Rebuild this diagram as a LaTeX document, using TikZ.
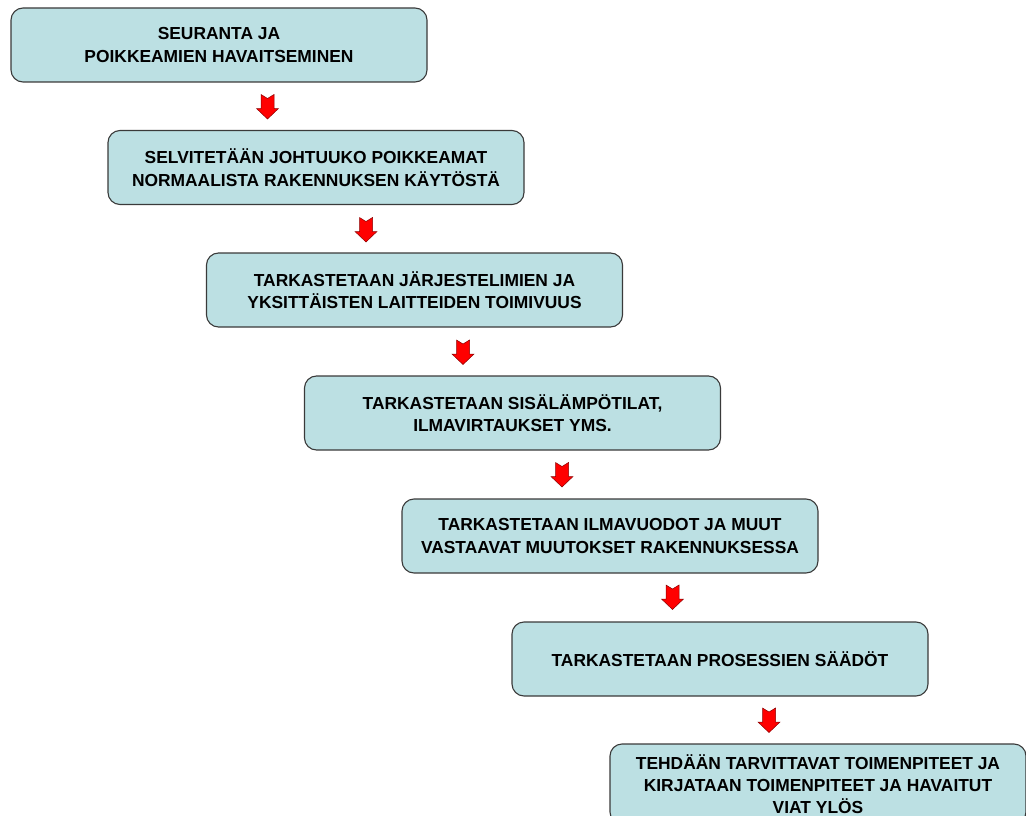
\documentclass[tikz,border=0pt]{standalone}
\usepackage{fontspec}
\usetikzlibrary{calc}
\setmainfont{Liberation Sans}
\definecolor{boxfill}{HTML}{BCE0E3}
\definecolor{boxline}{HTML}{3A3A3A}
\definecolor{arrred}{HTML}{FF0000}
\definecolor{arrline}{HTML}{8A0000}
\begin{document}
\begin{tikzpicture}[x=1pt,y=-1pt,
  stepbox/.style={draw=boxline, line width=1.1pt, fill=boxfill, rounded corners=12pt,
    minimum width=416pt, minimum height=74pt, align=center, inner sep=0pt,
    font=\fontsize{17.4}{22.5}\selectfont\bfseries},
  blockarrow/.style={fill=arrred, draw=arrline, line width=0.5pt, line join=miter}
]
\useasboundingbox (0,0) rectangle (1026,816);
\clip (0,0) rectangle (1026,816);
\node[stepbox] (b1) at (219,45) {SEURANTA JA\\POIKKEAMIEN HAVAITSEMINEN};
\node[stepbox] (b2) at (316,167.5) {SELVITETÄÄN JOHTUUKO POIKKEAMAT\\NORMAALISTA RAKENNUKSEN KÄYTÖSTÄ};
\node[stepbox] (b3) at (414.5,290) {TARKASTETAAN JÄRJESTELIMIEN JA\\YKSITTÄISTEN LAITTEIDEN TOIMIVUUS};
\node[stepbox] (b4) at (512.5,413) {TARKASTETAAN SISÄLÄMPÖTILAT,\\ILMAVIRTAUKSET YMS.};
\node[stepbox] (b5) at (610,536) {TARKASTETAAN ILMAVUODOT JA MUUT\\VASTAAVAT MUUTOKSET RAKENNUKSESSA};
\node[stepbox] (b6) at (720,659) {TARKASTETAAN PROSESSIEN SÄÄDÖT};
\node[stepbox, minimum height=80pt, font=\fontsize{17.4}{21.8}\selectfont\bfseries] (b7) at (818,784) {TEHDÄÄN TARVITTAVAT TOIMENPITEET JA\\KIRJATAAN TOIMENPITEET JA HAVAITUT\\VIAT YLÖS};
\coordinate (a1) at (267.5,94.5);
\coordinate (a2) at (366,217.5);
\coordinate (a3) at (463,340);
\coordinate (a4) at (562,462.5);
\coordinate (a5) at (672.5,585);
\coordinate (a6) at (769,708);
\foreach \a in {a1,a2,a3,a4,a5,a6}{
  \draw[blockarrow] ($(\a)+(-6.5,0)$) -- ($(\a)+(0,4)$) -- ($(\a)+(6.5,0)$)
    -- ($(\a)+(6.5,14)$) -- ($(\a)+(11,14)$)
    -- ($(\a)+(0,24.5)$) -- ($(\a)+(-11,14)$)
    -- ($(\a)+(-6.5,14)$) -- cycle;
}
\end{tikzpicture}
\end{document}
